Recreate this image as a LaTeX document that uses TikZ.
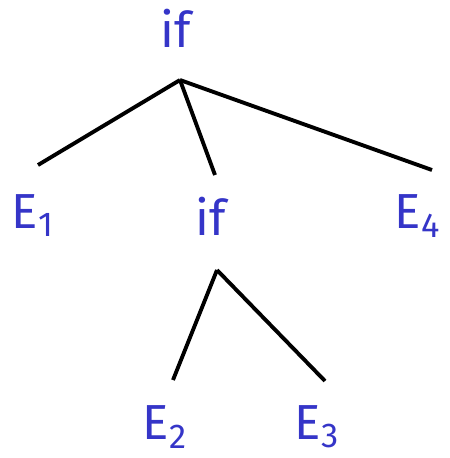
\documentclass[tikz,border=0pt]{standalone}
\usepackage{fontspec}
\setmainfont{Fira Sans}
\usepackage{xcolor}
\definecolor{termblue}{HTML}{3535C8}

\begin{document}
\begin{tikzpicture}[x=0.02cm, y=-0.02cm, line width=2.2pt,
    term/.style={text=termblue, inner sep=0pt, font=\fontsize{28}{30}\selectfont}]
  \useasboundingbox (0,0) rectangle (450,458);
  % labels
  \node[term] (ifroot) at (176,28) {if};
  \node[term] (ifinner) at (211,216) {if};
  \node[term, anchor=west] (e1) at (10,216) {E\textsubscript{1}};
  \node[term, anchor=west] (e4) at (393,216) {E\textsubscript{4}};
  \node[term, anchor=west] (e2) at (141,427) {E\textsubscript{2}};
  \node[term, anchor=west] (e3) at (293,427) {E\textsubscript{3}};
  % branch ends
  \coordinate (rootfork) at (180,80);
  \coordinate (innerfork) at (217,270);
  \coordinate (e1end) at (38,165);
  \coordinate (ifend) at (215,175);
  \coordinate (e4end) at (432,170);
  \coordinate (e2end) at (173,380);
  \coordinate (e3end) at (325,381);
  \draw (rootfork) -- (e1end);
  \draw (rootfork) -- (ifend);
  \draw (rootfork) -- (e4end);
  \draw (innerfork) -- (e2end);
  \draw (innerfork) -- (e3end);
\end{tikzpicture}
\end{document}
